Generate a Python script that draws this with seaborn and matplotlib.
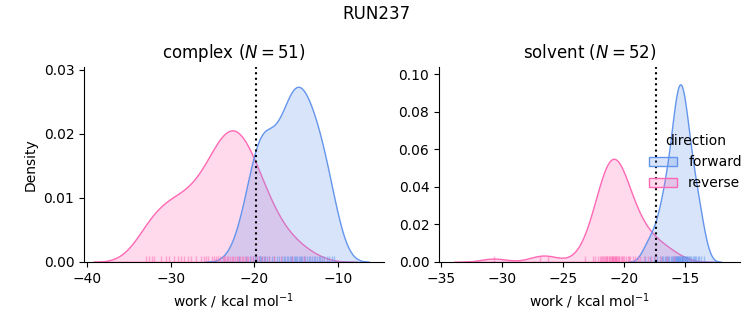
import numpy as np
import pandas as pd
import matplotlib
matplotlib.use("Agg")
import matplotlib.pyplot as plt
from matplotlib.ticker import MultipleLocator
import seaborn as sns

run_name = "RUN237"
phases = ["complex", "solvent"]
directions = ["forward", "reverse"]
palette = {"forward": "#6495ED", "reverse": "#FF69B4"}

complex_forward = [
    -21.8, -21.0, -20.5, -20.2, -19.9, -19.7, -19.5, -19.3, -19.2, -19.1,
    -18.9, -18.7, -18.5, -18.2, -17.9, -17.6, -17.3, -17.0, -16.7, -16.5,
    -16.3, -16.1, -16.0, -15.75, -15.6, -15.45, -15.3, -15.15, -15.0, -14.85,
    -14.7, -14.55, -14.4, -14.25, -14.1, -13.9, -13.7, -13.5, -13.3, -13.1,
    -12.9, -12.7, -12.5, -12.3, -12.1, -11.9, -11.6, -11.3, -11.0, -10.7,
    -10.4,
]
complex_reverse = [
    -33.0, -32.6, -32.3, -32.0, -31.2, -30.6, -30.2, -29.6, -29.1, -28.8,
    -28.4, -28.0, -27.6, -27.0, -26.4, -26.0, -25.8, -25.5, -25.1, -24.8,
    -24.6, -24.4, -24.1, -23.8, -23.6, -23.5, -23.3, -23.1, -22.9, -22.7,
    -22.5, -22.3, -22.1, -21.9, -21.7, -21.5, -21.3, -21.1, -20.9, -20.7,
    -20.4, -20.1, -19.8, -19.5, -19.1, -18.7, -18.2, -17.6, -16.8, -15.5,
    -14.0,
]
solvent_forward = [
    -18.3, -17.9, -17.6, -17.3, -17.1, -16.9, -16.8, -16.7, -16.6, -16.5,
    -16.4, -16.3, -16.2, -16.1, -16.0, -15.9, -15.9, -15.85, -15.8, -15.75,
    -15.7, -15.65, -15.6, -15.6, -15.55, -15.5, -15.45, -15.4, -15.35, -15.3,
    -15.3, -15.25, -15.2, -15.15, -15.1, -15.05, -15.0, -14.95, -14.9, -14.85,
    -14.8, -14.7, -14.6, -14.5, -14.4, -14.3, -14.2, -14.1, -14.0, -13.9,
    -13.7, -13.5,
]
solvent_reverse = [
    -30.7, -26.9, -26.3, -23.2, -22.6, -22.4, -22.2, -22.0, -21.9, -21.8,
    -21.75, -21.7, -21.6, -21.5, -21.45, -21.4, -21.3, -21.25, -21.2, -21.1,
    -21.05, -21.0, -20.95, -20.9, -20.85, -20.8, -20.75, -20.7, -20.65, -20.6,
    -20.5, -20.45, -20.4, -20.3, -20.2, -20.1, -20.0, -19.9, -19.7, -19.6,
    -19.5, -19.3, -19.1, -18.9, -18.7, -18.4, -18.1, -17.8, -17.5, -17.0,
    -16.5, -15.9,
]
free_energy = {"complex": -19.8, "solvent": -17.4}
n_samples = {"complex": 51, "solvent": 52}
xlims = {"complex": (-40.4, -4.5), "solvent": (-35.2, -10.5)}
ylims = {"complex": (0, 0.0305), "solvent": (0, 0.104)}
ytick_step = {"complex": 0.01, "solvent": 0.02}

values = {
    ("complex", "forward"): complex_forward,
    ("complex", "reverse"): complex_reverse,
    ("solvent", "forward"): solvent_forward,
    ("solvent", "reverse"): solvent_reverse,
}
rows = []
for (ph, d), vals in values.items():
    for v in vals:
        rows.append({"phase": ph, "direction": d, "work": v})
df = pd.DataFrame(rows)

sns.set_style("ticks")
plt.rcParams["font.family"] = ["DejaVu Sans"]
plt.rcParams["text.color"] = "black"
plt.rcParams["axes.labelcolor"] = "black"
plt.rcParams["xtick.color"] = "black"
plt.rcParams["ytick.color"] = "black"
plt.rcParams["axes.edgecolor"] = "black"

fig = plt.figure(figsize=(7.53, 3.25), dpi=100)
axes = [fig.add_axes([0.1116, 0.194, 0.398, 0.601]),
        fig.add_axes([0.583, 0.194, 0.400, 0.601])]

for ax, ph in zip(axes, phases):
    # hue label only within this phase; all rows share one common normalisation
    df["hue_" + ph] = np.where(df["phase"] == ph, df["direction"], "other-" + df["direction"])
    sns.kdeplot(data=df, x="work", hue="hue_" + ph, hue_order=directions,
                palette=palette, fill=True, common_norm=True, ax=ax,
                linewidth=1, legend=(ph == "solvent"))
    sns.rugplot(data=df[df["phase"] == ph], x="work", hue="direction",
                hue_order=directions, palette=palette, ax=ax,
                height=0.03, alpha=0.5, legend=False)
    ax.axvline(free_energy[ph], color="black", linestyle=":", linewidth=1.5)
    ax.set_xlim(*xlims[ph])
    ax.set_ylim(*ylims[ph])
    ax.yaxis.set_major_locator(MultipleLocator(ytick_step[ph]))
    ax.yaxis.set_major_formatter(matplotlib.ticker.FormatStrFormatter("%.2f"))
    ax.set_title(f"{ph} ($N = {n_samples[ph]}$)", fontsize=12)
    ax.set_xlabel(r"work / kcal mol$^{-1}$", fontsize=10)
    ax.tick_params(labelsize=10)
    sns.despine(ax=ax)

axes[0].set_ylabel("Density", fontsize=10)
axes[1].set_ylabel("")
sns.move_legend(axes[1], "center right", bbox_to_anchor=(1.047, 0.51),
                frameon=False, title="direction", fontsize=10, title_fontsize=10)

fig.suptitle(run_name, fontsize=12, y=0.985)
fig.savefig("out.png", dpi=100)
